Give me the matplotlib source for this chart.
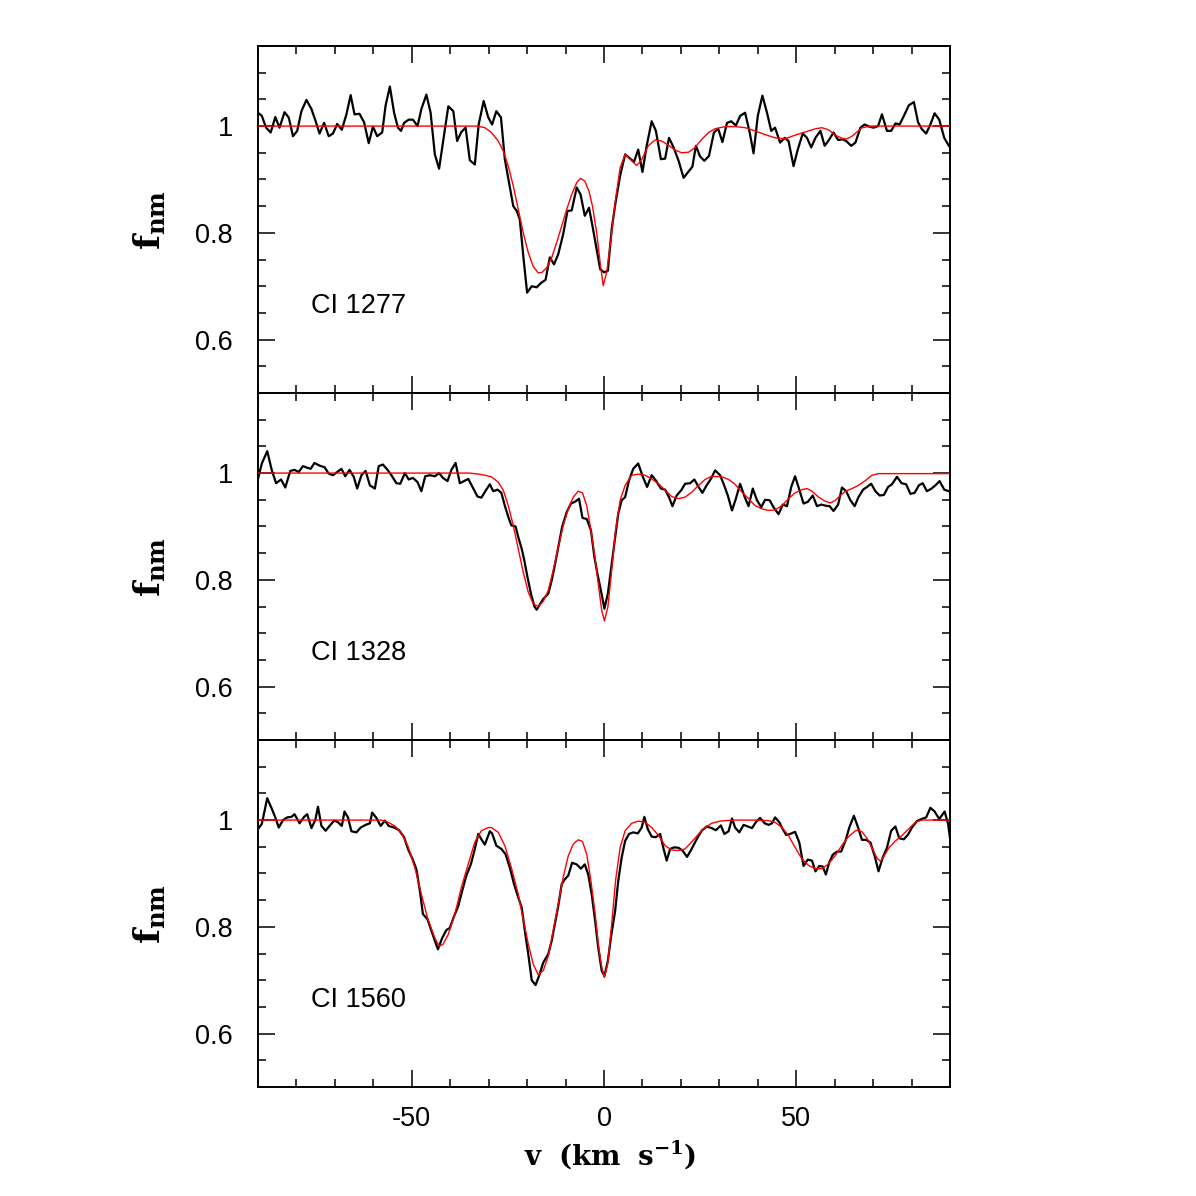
import numpy as np
import matplotlib
matplotlib.use("Agg")
import matplotlib.pyplot as plt
from matplotlib.ticker import MultipleLocator, FormatStrFormatter

plt.rcParams['font.family'] = ['Liberation Sans', 'DejaVu Sans']
plt.rcParams['mathtext.fontset'] = 'dejavuserif'
plt.rcParams['axes.unicode_minus'] = False

# ---- CI 1277 : observed spectrum ----
v_1277 = [-90.0, -89.0, -87.9, -86.7, -85.5, -84.4, -83.1, -82.0, -80.9, -79.8,
          -78.7, -77.4, -76.1, -75.0, -74.0, -72.8, -71.6, -70.5, -69.4, -68.2,
          -67.0, -65.9, -64.9, -63.6, -62.4, -61.2, -60.1, -59.0, -57.7, -56.8,
          -55.7, -54.6, -53.6, -52.8, -52.0, -50.8, -49.7, -48.5, -47.5, -46.2,
          -45.1, -44.0, -42.9, -41.9, -40.5, -39.2, -38.2, -37.1, -36.0, -34.9,
          -33.6, -32.6, -31.3, -30.1, -29.1, -28.0, -26.8, -25.8, -24.7, -23.6,
          -22.7, -21.9, -21.0, -20.0, -18.8, -17.5, -16.4, -15.2, -14.1, -13.0,
          -11.9, -10.6, -9.5, -8.4, -7.1, -6.1, -5.0, -3.9, -3.0, -1.9,
          -1.0, 0.0, 1.0, 2.0, 3.0, 4.2, 5.5, 6.5, 7.8, 8.9,
          10.0, 11.1, 12.4, 13.5, 14.8, 15.9, 16.9, 18.1, 19.4, 20.7,
          21.8, 23.0, 23.9, 25.0, 26.1, 27.3, 28.6, 29.7, 30.8, 32.0,
          33.1, 34.3, 35.4, 36.7, 37.9, 38.9, 40.0, 41.2, 42.4, 43.5,
          44.5, 45.8, 47.0, 48.0, 49.3, 50.4, 51.7, 52.8, 53.9, 55.0,
          56.3, 57.4, 58.6, 59.7, 60.9, 62.1, 63.0, 64.3, 65.4, 66.7,
          67.8, 69.0, 70.1, 71.3, 72.3, 73.6, 74.7, 75.8, 76.9, 78.0,
          79.3, 80.6, 81.7, 82.7, 83.8, 84.9, 86.0, 87.2, 88.5, 89.7]
f_1277 = [1.025, 1.019, 0.997, 0.988, 1.017, 0.997, 1.026, 1.016, 0.981, 0.991,
          1.028, 1.049, 1.032, 1.009, 0.986, 1.006, 0.981, 0.986, 1.004, 0.993,
          1.022, 1.058, 1.022, 1.023, 1.007, 0.968, 0.999, 0.981, 0.988, 1.039,
          1.074, 1.025, 0.997, 0.991, 1.006, 1.012, 1.012, 1.000, 1.032, 1.059,
          1.025, 0.947, 0.920, 0.969, 1.037, 1.028, 0.972, 0.989, 0.997, 0.936,
          0.928, 1.003, 1.047, 1.016, 1.003, 1.028, 1.016, 0.938, 0.894, 0.850,
          0.841, 0.825, 0.757, 0.688, 0.700, 0.698, 0.706, 0.712, 0.754, 0.741,
          0.760, 0.798, 0.841, 0.842, 0.885, 0.872, 0.832, 0.847, 0.813, 0.769,
          0.732, 0.726, 0.729, 0.807, 0.857, 0.907, 0.947, 0.941, 0.933, 0.956,
          0.914, 0.963, 1.009, 0.991, 0.938, 0.939, 0.978, 0.960, 0.935, 0.903,
          0.913, 0.924, 0.963, 0.943, 0.935, 0.944, 0.988, 0.995, 0.970, 1.006,
          1.009, 1.001, 1.019, 1.025, 0.988, 0.949, 1.019, 1.057, 1.025, 0.991,
          0.997, 0.969, 0.978, 0.972, 0.925, 0.956, 0.986, 0.978, 0.960, 0.978,
          0.991, 0.963, 0.975, 0.988, 0.974, 0.975, 0.972, 0.963, 0.969, 0.997,
          1.003, 0.999, 0.997, 1.000, 1.022, 0.991, 0.991, 1.005, 1.003, 1.019,
          1.039, 1.045, 1.007, 0.994, 0.986, 1.003, 1.024, 1.012, 0.978, 0.963]

# ---- CI 1277 : model ----
vfit_1277 = [-90.0, -33.0, -31.0, -29.3, -27.5, -26.2, -24.9, -23.6, -22.3, -21.0,
             -19.7, -18.4, -17.1, -16.1, -14.9, -13.6, -12.3, -11.0, -9.7, -8.4,
             -7.1, -6.1, -5.0, -3.9, -3.0, -1.9, -1.0, -0.2, 0.7, 1.8,
             2.9, 4.2, 5.5, 7.2, 8.5, 9.8, 11.5, 13.3, 15.0, 16.8,
             18.5, 20.2, 22.0, 23.7, 25.4, 27.2, 28.9, 31.5, 34.1, 36.7,
             39.3, 41.9, 44.5, 47.1, 49.7, 52.4, 55.0, 56.7, 58.4, 60.2,
             61.9, 63.2, 64.5, 65.8, 67.1, 69.7, 90.0]
ffit_1277 = [1.000, 1.000, 0.997, 0.988, 0.972, 0.953, 0.925, 0.888, 0.844, 0.800,
             0.763, 0.737, 0.725, 0.726, 0.735, 0.754, 0.782, 0.813, 0.844, 0.872,
             0.894, 0.902, 0.897, 0.878, 0.850, 0.800, 0.744, 0.701, 0.726, 0.788,
             0.857, 0.922, 0.947, 0.935, 0.926, 0.937, 0.963, 0.974, 0.972, 0.964,
             0.955, 0.950, 0.951, 0.960, 0.975, 0.988, 0.995, 0.999, 0.999, 0.997,
             0.991, 0.984, 0.978, 0.976, 0.983, 0.989, 0.995, 0.997, 0.993, 0.983,
             0.977, 0.976, 0.981, 0.989, 0.997, 1.000, 1.000]

# ---- CI 1328 : observed spectrum ----
v_1328 = [-90.0, -89.0, -87.6, -86.4, -85.3, -84.0, -82.9, -81.6, -80.5, -79.4,
          -78.3, -77.2, -76.3, -75.3, -74.0, -72.7, -71.6, -70.5, -69.4, -68.3,
          -67.3, -66.2, -65.1, -64.2, -63.1, -62.0, -60.9, -59.6, -58.6, -57.5,
          -56.3, -55.3, -54.0, -53.0, -51.8, -50.8, -49.7, -48.5, -47.5, -46.5,
          -45.3, -44.0, -42.9, -41.9, -40.7, -39.7, -38.6, -37.5, -36.4, -35.3,
          -34.0, -32.9, -31.9, -30.7, -29.7, -28.8, -27.7, -26.7, -25.8, -24.9,
          -24.1, -23.0, -22.3, -21.4, -20.8, -19.9, -19.0, -18.1, -17.5, -16.7,
          -15.8, -14.5, -13.6, -12.8, -11.9, -10.9, -9.7, -8.6, -7.6, -6.5,
          -5.6, -4.5, -3.4, -2.5, -1.7, -0.8, 0.1, 1.0, 1.8, 2.9,
          3.7, 4.6, 5.5, 6.5, 7.6, 8.9, 10.1, 11.2, 12.4, 13.5,
          14.8, 15.9, 16.9, 17.8, 18.9, 20.1, 21.1, 22.4, 23.5, 24.6,
          25.6, 26.7, 27.8, 28.9, 30.2, 31.1, 32.2, 33.3, 34.3, 35.4,
          36.6, 37.6, 38.7, 39.8, 40.9, 41.9, 43.1, 44.1, 45.4, 46.5,
          47.6, 48.7, 49.7, 50.8, 51.9, 53.0, 54.3, 55.4, 56.5, 57.6,
          58.7, 59.7, 60.9, 61.9, 63.0, 64.1, 65.2, 66.2, 67.4, 68.4,
          69.5, 70.6, 71.7, 72.8, 73.9, 74.9, 76.2, 77.4, 78.6, 79.7,
          80.8, 81.9, 82.9, 84.0, 85.2, 86.2, 87.3, 88.5, 89.7]
f_1328 = [0.989, 1.018, 1.041, 1.005, 0.981, 0.988, 0.973, 1.004, 1.006, 1.002,
          1.013, 1.010, 1.008, 1.019, 1.014, 1.011, 0.999, 0.996, 1.002, 1.008,
          0.994, 1.006, 0.993, 0.971, 0.996, 1.004, 0.977, 0.971, 1.013, 1.016,
          1.006, 0.996, 0.981, 0.980, 1.000, 0.988, 0.991, 0.983, 0.966, 0.994,
          0.996, 0.994, 1.000, 0.991, 0.985, 1.006, 1.019, 0.981, 0.985, 0.989,
          0.971, 0.956, 0.954, 0.968, 0.979, 0.966, 0.969, 0.963, 0.939, 0.918,
          0.902, 0.900, 0.880, 0.858, 0.839, 0.805, 0.774, 0.750, 0.744, 0.754,
          0.764, 0.774, 0.799, 0.827, 0.861, 0.899, 0.927, 0.943, 0.946, 0.952,
          0.916, 0.914, 0.893, 0.843, 0.811, 0.780, 0.746, 0.774, 0.818, 0.880,
          0.924, 0.949, 0.955, 0.986, 1.008, 1.018, 0.993, 0.974, 0.996, 0.986,
          0.971, 0.969, 0.955, 0.938, 0.958, 0.968, 0.980, 0.981, 0.988, 0.974,
          0.963, 0.977, 0.989, 1.005, 0.996, 0.980, 0.958, 0.930, 0.952, 0.980,
          0.955, 0.938, 0.971, 0.949, 0.936, 0.950, 0.949, 0.936, 0.923, 0.941,
          0.938, 0.974, 0.994, 0.969, 0.943, 0.946, 0.958, 0.938, 0.941, 0.939,
          0.938, 0.929, 0.941, 0.973, 0.966, 0.949, 0.938, 0.955, 0.969, 0.974,
          0.980, 0.966, 0.958, 0.959, 0.974, 0.979, 0.993, 0.981, 0.979, 0.961,
          0.963, 0.977, 0.981, 0.966, 0.971, 0.977, 0.985, 0.969, 0.966]

# ---- CI 1328 : model ----
vfit_1328 = [-90.0, -35.0, -32.5, -31.0, -29.3, -27.5, -26.2, -24.9, -23.6, -22.3,
             -21.0, -19.7, -18.4, -17.1, -15.8, -14.5, -13.2, -11.9, -10.6, -9.3,
             -8.0, -6.7, -5.6, -4.5, -3.4, -2.3, -1.5, -0.6, 0.1, 1.0,
             2.0, 3.0, 4.2, 5.5, 7.2, 8.9, 10.7, 12.4, 14.2, 15.9,
             17.6, 19.4, 21.1, 22.8, 24.6, 26.3, 28.0, 30.7, 32.4, 34.1,
             35.9, 37.6, 39.3, 41.1, 42.8, 44.5, 46.3, 48.0, 49.7, 51.5,
             52.8, 54.1, 55.8, 57.6, 58.9, 60.2, 61.5, 62.8, 64.5, 66.2,
             68.0, 69.7, 71.4, 90.0]
ffit_1328 = [1.000, 1.000, 0.998, 0.996, 0.993, 0.983, 0.968, 0.939, 0.902, 0.858,
             0.814, 0.777, 0.755, 0.750, 0.760, 0.780, 0.818, 0.861, 0.902, 0.933,
             0.955, 0.966, 0.963, 0.939, 0.893, 0.839, 0.793, 0.743, 0.723, 0.749,
             0.818, 0.893, 0.949, 0.977, 0.996, 0.998, 0.996, 0.989, 0.980, 0.968,
             0.956, 0.952, 0.955, 0.964, 0.977, 0.988, 0.994, 0.993, 0.988, 0.979,
             0.964, 0.952, 0.939, 0.933, 0.930, 0.931, 0.939, 0.952, 0.963, 0.969,
             0.971, 0.966, 0.955, 0.947, 0.944, 0.949, 0.958, 0.966, 0.971, 0.977,
             0.986, 0.996, 0.999, 0.999]

# ---- CI 1560 : observed spectrum ----
v_1560 = [-90.0, -89.0, -87.6, -86.4, -85.5, -84.6, -83.5, -82.4, -81.3, -80.5,
          -79.2, -78.0, -77.2, -76.1, -75.1, -74.4, -73.5, -72.4, -71.4, -70.2,
          -69.2, -68.2, -67.5, -66.6, -65.7, -64.4, -63.3, -62.0, -60.9, -60.3,
          -59.2, -58.1, -57.0, -56.0, -54.6, -53.3, -52.0, -51.0, -49.8, -48.8,
          -47.9, -47.1, -45.9, -44.9, -44.0, -43.2, -42.1, -41.0, -40.1, -39.0,
          -37.9, -36.9, -35.8, -34.6, -33.6, -32.7, -31.9, -31.0, -29.7, -29.1,
          -28.0, -26.7, -25.6, -24.5, -23.4, -22.3, -21.4, -20.6, -19.7, -18.8,
          -17.8, -16.9, -15.8, -14.5, -13.6, -12.8, -11.9, -11.0, -10.2, -9.3,
          -8.3, -7.1, -6.0, -5.0, -4.1, -3.2, -2.3, -1.5, -0.6, 0.1,
          1.0, 1.8, 2.9, 3.7, 4.6, 5.5, 6.5, 7.6, 8.8, 9.8,
          10.5, 11.4, 12.4, 13.5, 14.6, 15.5, 16.3, 17.2, 18.3, 19.4,
          20.4, 21.6, 22.8, 24.1, 25.4, 26.7, 28.0, 29.1, 30.4, 31.3,
          32.4, 33.3, 34.1, 35.2, 36.3, 37.4, 38.5, 39.5, 40.6, 41.8,
          42.8, 43.7, 44.5, 45.6, 46.5, 47.4, 48.4, 49.7, 50.8, 51.9,
          53.0, 54.1, 55.0, 56.0, 56.9, 57.7, 58.6, 59.5, 60.6, 61.7,
          62.8, 63.8, 65.0, 66.1, 67.1, 68.2, 69.3, 70.4, 71.4, 72.5,
          73.6, 74.7, 75.8, 76.8, 78.0, 79.1, 80.1, 81.4, 82.6, 83.8,
          84.9, 86.0, 87.2, 88.6, 89.5, 90.0]
f_1560 = [0.983, 0.993, 1.041, 1.021, 1.005, 0.986, 1.000, 1.005, 1.006, 1.011,
          0.994, 1.006, 1.011, 0.985, 1.000, 1.025, 0.989, 0.980, 0.989, 0.999,
          0.996, 0.989, 1.016, 1.005, 0.979, 0.977, 0.986, 0.991, 0.994, 1.014,
          1.004, 0.989, 0.999, 0.989, 0.986, 0.981, 0.968, 0.946, 0.927, 0.908,
          0.868, 0.824, 0.814, 0.793, 0.774, 0.758, 0.779, 0.794, 0.798, 0.820,
          0.839, 0.867, 0.896, 0.918, 0.946, 0.974, 0.964, 0.954, 0.979, 0.975,
          0.952, 0.946, 0.936, 0.911, 0.880, 0.855, 0.836, 0.793, 0.749, 0.700,
          0.691, 0.708, 0.733, 0.749, 0.774, 0.805, 0.839, 0.880, 0.889, 0.896,
          0.920, 0.917, 0.909, 0.917, 0.898, 0.861, 0.811, 0.761, 0.718, 0.708,
          0.736, 0.780, 0.830, 0.886, 0.930, 0.961, 0.974, 0.977, 0.975, 0.986,
          1.006, 0.983, 0.969, 0.968, 0.974, 0.946, 0.924, 0.946, 0.949, 0.948,
          0.943, 0.931, 0.946, 0.964, 0.980, 0.988, 0.985, 0.981, 0.990, 0.974,
          0.979, 1.003, 0.986, 0.977, 0.991, 0.988, 0.985, 0.996, 1.004, 0.994,
          0.991, 0.994, 1.005, 0.996, 0.983, 0.972, 0.974, 0.978, 0.958, 0.914,
          0.926, 0.924, 0.904, 0.914, 0.913, 0.898, 0.921, 0.935, 0.941, 0.941,
          0.961, 0.986, 1.008, 0.986, 0.963, 0.963, 0.958, 0.933, 0.904, 0.930,
          0.948, 0.980, 0.988, 0.966, 0.964, 0.973, 0.986, 0.998, 1.002, 1.005,
          1.023, 1.016, 1.002, 1.016, 0.993, 0.966]

# ---- CI 1560 : model ----
vfit_1560 = [-90.0, -57.9, -56.2, -54.4, -52.7, -51.0, -49.2, -47.5, -45.8, -44.0,
             -42.9, -41.9, -40.5, -38.8, -37.1, -35.3, -33.6, -31.9, -30.1, -29.3,
             -27.5, -25.8, -24.1, -22.3, -21.0, -19.7, -18.4, -17.1, -15.8, -14.5,
             -13.2, -11.9, -10.6, -9.3, -8.0, -6.7, -5.6, -4.5, -3.4, -2.3,
             -1.5, -0.6, 0.1, 1.0, 2.0, 3.0, 4.2, 5.5, 7.2, 8.9,
             10.7, 12.4, 14.2, 15.9, 17.6, 19.4, 21.1, 22.8, 24.6, 26.3,
             28.0, 30.2, 31.5, 34.1, 39.3, 42.8, 44.5, 46.3, 48.0, 49.7,
             51.5, 53.2, 55.0, 56.7, 58.4, 60.2, 61.9, 63.6, 65.4, 66.2,
             67.1, 68.4, 69.7, 71.0, 71.9, 72.8, 74.1, 75.8, 77.5, 79.3,
             81.0, 82.7, 90.0]
ffit_1560 = [1.000, 1.000, 0.996, 0.989, 0.976, 0.951, 0.911, 0.861, 0.814, 0.779,
             0.764, 0.767, 0.786, 0.824, 0.874, 0.918, 0.959, 0.980, 0.986, 0.986,
             0.977, 0.952, 0.911, 0.861, 0.814, 0.768, 0.730, 0.710, 0.718, 0.745,
             0.793, 0.843, 0.893, 0.933, 0.955, 0.963, 0.960, 0.936, 0.886, 0.824,
             0.768, 0.724, 0.705, 0.733, 0.805, 0.886, 0.949, 0.980, 0.994, 0.998,
             0.996, 0.986, 0.971, 0.952, 0.944, 0.943, 0.946, 0.959, 0.974, 0.986,
             0.994, 0.998, 0.999, 1.000, 1.000, 0.999, 0.996, 0.986, 0.971, 0.949,
             0.927, 0.915, 0.909, 0.909, 0.918, 0.934, 0.953, 0.969, 0.980, 0.981,
             0.978, 0.966, 0.948, 0.929, 0.923, 0.932, 0.948, 0.961, 0.971, 0.984,
             0.996, 1.000, 1.000]

panels = [
    ("CI 1277", v_1277, f_1277, vfit_1277, ffit_1277),
    ("CI 1328", v_1328, f_1328, vfit_1328, ffit_1328),
    ("CI 1560", v_1560, f_1560, vfit_1560, ffit_1560),
]

S = 1196.0
fig = plt.figure(figsize=(11.96, 11.96), dpi=100)
left, width, height = 258 / S, 692 / S, 347 / S
tops = [46, 393, 740]

for k, (name, v, f, mv, mf) in enumerate(panels):
    ax = fig.add_axes([left, 1 - (tops[k] + 347) / S, width, height])
    ax.plot(v, f, color='black', lw=1.6, zorder=2)
    ax.plot(mv, mf, color='red', lw=1.0, zorder=3)
    ax.set_xlim(-90, 90)
    ax.set_ylim(0.5, 1.15)
    ax.xaxis.set_major_locator(MultipleLocator(50))
    ax.xaxis.set_minor_locator(MultipleLocator(10))
    ax.yaxis.set_major_locator(MultipleLocator(0.2))
    ax.yaxis.set_minor_locator(MultipleLocator(0.05))
    ax.yaxis.set_major_formatter(FormatStrFormatter('%g'))
    ax.tick_params(which='both', direction='in', top=True, right=True,
                   width=1.1, labelsize=19.5)
    ax.tick_params(which='major', length=12)
    ax.tick_params(which='minor', length=6)
    ax.tick_params(axis='y', pad=18)
    ax.tick_params(axis='x', pad=14)
    for sp in ax.spines.values():
        sp.set_linewidth(1.4)
    if k < 2:
        ax.tick_params(axis='x', labelbottom=False)
    ax.text(-76.3, 0.663, name, fontsize=19.5, ha='left', va='center')
    yc = 1 - (tops[k] + 347 / 2) / S
    fig.text(150 / S, yc, r'$\mathbf{f_{nm}}$', rotation=90, fontsize=25,
             ha='center', va='center')

fig.text(610 / S, 1 - 1155 / S, r'$\mathbf{v\ \ (km\ \ s^{-1})}$', fontsize=20,
         ha='center', va='center')

fig.savefig('out.png', dpi=100)
